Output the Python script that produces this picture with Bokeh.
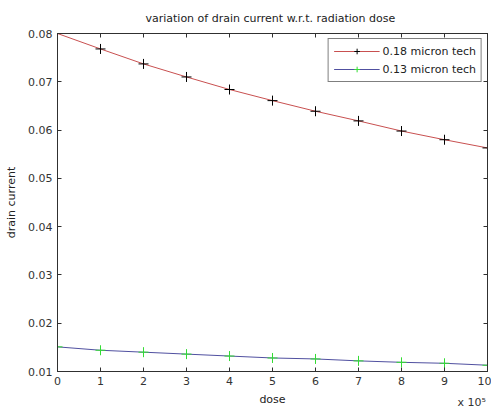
from bokeh.plotting import figure
from bokeh.models import (LinearAxis, FixedTicker, CustomJSTickFormatter, Legend,
                          LegendItem, Label, Range1d)
from bokeh.embed import file_html
from bokeh.resources import INLINE

# data
dose = [0, 1e5, 2e5, 3e5, 4e5, 5e5, 6e5, 7e5, 8e5, 9e5, 1e6]
current_018 = [0.0800, 0.0768, 0.0737, 0.0710, 0.0684, 0.0661, 0.0639, 0.0619, 0.0598, 0.0580, 0.0563]
current_013 = [0.0151, 0.0144, 0.0140, 0.0136, 0.0132, 0.0128, 0.0126, 0.0122, 0.0119, 0.0117, 0.0113]
y_ticks = [0.01, 0.02, 0.03, 0.04, 0.05, 0.06, 0.07, 0.08]
x_ticks = dose
series_names = ["0.18 micron tech", "0.13 micron tech"]
title_text = "variation of drain current w.r.t. radiation dose"

FONT = "DejaVu Sans"

p = figure(width=491, height=410, output_backend="svg", toolbar_location=None,
           x_range=Range1d(0, 1e6), y_range=Range1d(0.01, 0.08),
           min_border_left=57, min_border_top=33, min_border_bottom=39, min_border_right=4)
p.title.text = ""
p.title.visible = False

p.xgrid.visible = False
p.ygrid.visible = False
p.outline_line_color = "#303030"
p.outline_line_width = 1
p.background_fill_color = "white"
p.border_fill_color = "white"

fmt = CustomJSTickFormatter(code="return (tick/1e5).toFixed(0);")
blank = CustomJSTickFormatter(code="return '';")
for ax in p.xaxis:
    ax.ticker = FixedTicker(ticks=x_ticks)
    ax.formatter = fmt
    ax.axis_label = "dose"
for ax in p.yaxis:
    ax.ticker = FixedTicker(ticks=y_ticks)
    ax.axis_label = "drain current"

top = LinearAxis(ticker=FixedTicker(ticks=x_ticks), formatter=blank)
right = LinearAxis(ticker=FixedTicker(ticks=y_ticks), formatter=blank)
p.add_layout(top, "above")
p.add_layout(right, "right")

for ax in p.axis:
    ax.major_tick_in = 4
    ax.major_tick_out = 0
    ax.minor_tick_in = 0
    ax.minor_tick_out = 0
    ax.axis_line_color = "#303030"
    ax.major_tick_line_color = "#303030"
    ax.major_label_text_font = FONT
    ax.major_label_text_font_size = "11px"
    ax.major_label_text_color = "#333333"
    ax.axis_label_text_font = FONT
    ax.axis_label_text_font_size = "11px"
    ax.axis_label_text_font_style = "normal"
    ax.axis_label_text_color = "#222222"
top.major_label_standoff = 0
right.major_label_standoff = 0
p.xaxis[0].major_label_standoff = 4
p.xaxis[0].axis_label_standoff = 3
p.yaxis[0].major_label_standoff = 5
p.yaxis[0].axis_label_standoff = 7

l1 = p.line(dose, current_018, line_color="#c85050", line_width=1)
m1 = p.scatter(dose, current_018, marker="cross", size=10, line_color="black", line_width=1)
l2 = p.line(dose, current_013, line_color="#5050a0", line_width=1)
m2 = p.scatter(dose, current_013, marker="cross", size=10, line_color="#33dd33", line_width=1)

legend = Legend(items=[LegendItem(label=series_names[0], renderers=[l1, m1]),
                       LegendItem(label=series_names[1], renderers=[l2, m2])],
                location="top_right")
legend.border_line_color = "black"
legend.border_line_width = 1
legend.background_fill_color = "white"
legend.background_fill_alpha = 1
legend.label_text_font = FONT
legend.label_text_font_size = "11px"
legend.label_text_color = "#222222"
legend.glyph_width = 46
legend.glyph_height = 14
legend.label_height = 14
legend.label_standoff = 3
legend.spacing = 4
legend.padding = 5
legend.margin = 5
p.add_layout(legend)

# chart title and exponent note, both placed in the top side panel (not clipped by the frame)
p.add_layout(Label(x=4.95e5, y=0.0831, text=title_text, text_font=FONT,
                   text_font_size="11px", text_color="#222222",
                   text_align="center", text_baseline="middle"), "above")
p.add_layout(Label(x=9.3e5, y=0.0035, text="x 10\u2075", text_font=FONT,
                   text_font_size="11px", text_color="#333333",
                   text_align="left", text_baseline="alphabetic"), "above")

open("out.html", "w").write(file_html(p, INLINE))
